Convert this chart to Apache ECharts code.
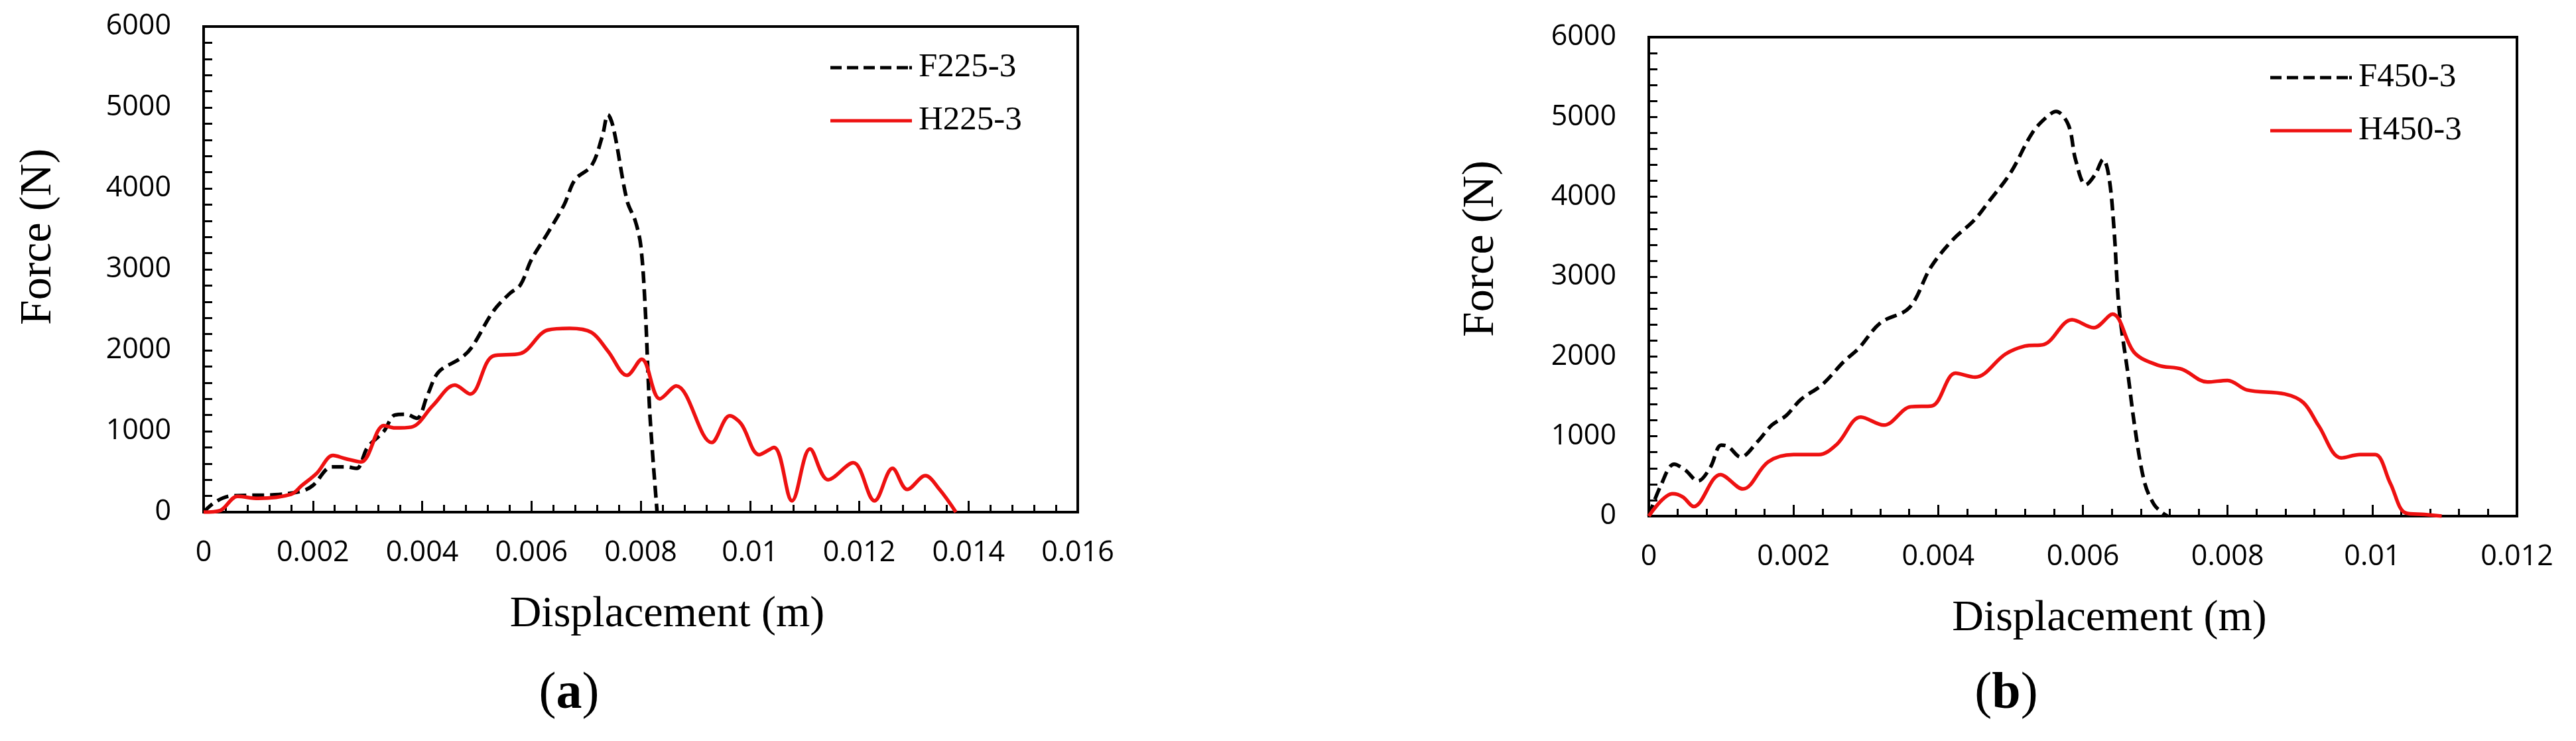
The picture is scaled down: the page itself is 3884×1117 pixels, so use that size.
<!DOCTYPE html>
<html>
<head>
<meta charset="utf-8">
<script src="https://cdn.jsdelivr.net/npm/echarts@6/dist/echarts.min.js"></script>
<style>
  body { margin: 0; background: #fff; }
  #chart { width: 3884px; height: 1117px; }
</style>
</head>
<body>
<div id="chart"></div>
<script>
// (a) 225 specimens
var f225X = [0, 0.0002, 0.0005, 0.0013, 0.0018, 0.002, 0.00235, 0.0026, 0.0028, 0.003, 0.0033, 0.0035, 0.0037, 0.0039, 0.0041, 0.0043, 0.0047, 0.0049, 0.0053, 0.0056, 0.0058, 0.006, 0.0063, 0.0066, 0.0068, 0.0071, 0.0073, 0.0074, 0.0075, 0.00775, 0.0079, 0.008, 0.00808, 0.00816, 0.00822, 0.00827, 0.0083];
var f225Y = [0, 120, 200, 215, 260, 330, 560, 560, 540, 800, 1000, 1200, 1210, 1160, 1450, 1730, 1900, 2030, 2480, 2700, 2810, 3120, 3450, 3800, 4110, 4280, 4650, 4910, 4750, 3850, 3600, 3300, 2560, 1310, 700, 262, 0];
var h225X = [0, 0.0003, 0.00062, 0.001, 0.0016, 0.0018, 0.00207, 0.00237, 0.0026, 0.00288, 0.0033, 0.0035, 0.0038, 0.0042, 0.0046, 0.00488, 0.0053, 0.0058, 0.0063, 0.0067, 0.0071, 0.0074, 0.00775, 0.00802, 0.00835, 0.00865, 0.0093, 0.00963, 0.00984, 0.01017, 0.01044, 0.01077, 0.0111, 0.01143, 0.01189, 0.01228, 0.01261, 0.01288, 0.01321, 0.01347, 0.01377];
var h225Y = [0, 20, 195, 170, 220, 330, 480, 700, 660, 620, 1070, 1040, 1050, 1320, 1570, 1460, 1930, 1960, 2250, 2270, 2220, 1990, 1690, 1890, 1400, 1560, 860, 1190, 1090, 710, 800, 140, 780, 400, 610, 140, 540, 280, 450, 280, 0];

// (b) 450 specimens
var f450X = [0, 0.00016, 0.00035, 0.0005, 0.00068, 0.00085, 0.001, 0.0011, 0.00127, 0.0015, 0.0017, 0.0019, 0.0021, 0.0024, 0.0027, 0.0029, 0.0032, 0.0036, 0.0039, 0.0042, 0.0045, 0.0047, 0.005, 0.0053, 0.0055, 0.00563, 0.0058, 0.0059, 0.00604, 0.00617, 0.00628, 0.00636, 0.00643, 0.0065, 0.00662, 0.00672, 0.00685, 0.00698, 0.0071, 0.00717];
var f450Y = [0, 370, 650, 580, 440, 610, 890, 870, 740, 930, 1140, 1260, 1460, 1650, 1940, 2100, 2420, 2610, 3120, 3460, 3710, 3940, 4300, 4800, 5000, 5070, 4900, 4460, 4150, 4280, 4470, 4250, 3600, 2600, 1800, 1100, 430, 150, 40, 0];
var h450X = [0, 0.00033, 0.00047, 0.00062, 0.00099, 0.0013, 0.00165, 0.002, 0.00235, 0.0026, 0.00293, 0.00325, 0.00362, 0.00391, 0.00424, 0.00451, 0.00493, 0.0052, 0.00546, 0.00585, 0.00615, 0.00641, 0.00671, 0.00704, 0.00737, 0.00772, 0.008, 0.00827, 0.00879, 0.00905, 0.00926, 0.00957, 0.00983, 0.01004, 0.01025, 0.01046, 0.01072, 0.01096];
var h450Y = [0, 280, 240, 120, 520, 340, 680, 770, 770, 900, 1240, 1140, 1370, 1380, 1790, 1740, 2030, 2130, 2150, 2460, 2360, 2530, 2050, 1890, 1840, 1680, 1700, 1580, 1530, 1420, 1130, 730, 770, 770, 410, 40, 20, 0];

var xMaxA = 0.016, xMaxB = 0.012;
var xTitle = 'Displacement (m)';
var yTitle = 'Force (N)';

function pairs(xs, ys) {
  return xs.map(function (x, i) { return [x, ys[i]]; });
}

var serif = 'Liberation Serif';
var sans = 'Open Sans';
var red = '#ee1111';

// legend swatches: dashed bar and solid bar
var dashIcon = 'path://M0,0h17v5h-17z M25,0h17v5h-17z M50,0h17v5h-17z M75,0h17v5h-17z M100,0h17v5h-17z M119,0h4v5h-4z';
var solidIcon = 'path://M0,0h123v5h-123z';

function xAxis(idx, max) {
  return {
    type: 'value', gridIndex: idx, min: 0, max: max, interval: 0.002,
    name: xTitle, nameLocation: 'middle', nameGap: 122,
    nameTextStyle: { fontFamily: serif, fontSize: 66, color: '#000', padding: [0, 0, 0, 80] },
    axisLine: { lineStyle: { color: '#000', width: 4 } },
    axisTick: { inside: true, length: 17, lineStyle: { color: '#000', width: 3 } },
    minorTick: { show: true, splitNumber: 5, length: 11, lineStyle: { color: '#000', width: 3 } },
    splitLine: { show: false },
    axisLabel: {
      margin: 40, fontFamily: sans, fontSize: 43, color: '#000',
      formatter: function (v) { return String(+v.toFixed(4)); }
    }
  };
}

function yAxis(idx) {
  return {
    type: 'value', gridIndex: idx, min: 0, max: 6000, interval: 1000,
    axisLine: { lineStyle: { color: '#000', width: 4 } },
    axisTick: { inside: true, length: 13, lineStyle: { color: '#000', width: 3 } },
    minorTick: { show: true, splitNumber: 5, length: 13, lineStyle: { color: '#000', width: 3 } },
    splitLine: { show: false },
    axisLabel: {
      margin: 49, fontFamily: sans, fontSize: 43, color: '#000',
      formatter: function (v) { return String(v); }
    }
  };
}

function line(name, idx, data, dashed) {
  var c = dashed ? '#000' : red;
  return {
    name: name, type: 'line', xAxisIndex: idx, yAxisIndex: idx,
    data: data, symbol: 'none', showSymbol: false, smooth: 0.35,
    color: c,
    itemStyle: { color: c },
    lineStyle: { width: 5.5, type: dashed ? [18, 9] : 'solid', color: c }
  };
}

function legend(names, left, top) {
  return {
    data: [
      { name: names[0], icon: dashIcon },
      { name: names[1], icon: solidIcon }
    ],
    orient: 'vertical', left: left, top: top,
    itemWidth: 123, itemHeight: 5, itemGap: 20, selectedMode: false,
    textStyle: { fontFamily: serif, fontSize: 51, lineHeight: 60, color: '#000', padding: [0, 0, 0, 5] }
  };
}

// y-axis title sits a little above the plot's middle in the original
function yTitleText(x, y) {
  return {
    type: 'text', x: x, y: y, rotation: Math.PI / 2,
    style: {
      text: yTitle, align: 'center', verticalAlign: 'middle',
      fontFamily: serif, fontSize: 68, fill: '#000'
    }
  };
}

function panelLabel(letter, x) {
  return {
    type: 'text', x: x, y: 1047,
    style: {
      text: '{p|(}{b|' + letter + '}{p|)}', align: 'center', verticalAlign: 'middle',
      rich: {
        p: { fontFamily: serif, fontSize: 78, fill: '#000' },
        b: { fontFamily: serif, fontSize: 78, fontWeight: 'bold', fill: '#000' }
      }
    }
  };
}

var chart = echarts.init(document.getElementById('chart'));
chart.setOption({
  animation: false,
  backgroundColor: '#fff',
  grid: [
    { left: 307, top: 40, width: 1318, height: 732, show: true, borderColor: '#000', borderWidth: 4 },
    { left: 2486, top: 56, width: 1309, height: 722, show: true, borderColor: '#000', borderWidth: 4 }
  ],
  xAxis: [xAxis(0, xMaxA), xAxis(1, xMaxB)],
  yAxis: [yAxis(0), yAxis(1)],
  legend: [legend(['F225-3', 'H225-3'], 1247, 67), legend(['F450-3', 'H450-3'], 3418, 82)],
  series: [
    line('F225-3', 0, pairs(f225X, f225Y), true),
    line('H225-3', 0, pairs(h225X, h225Y), false),
    line('F450-3', 1, pairs(f450X, f450Y), true),
    line('H450-3', 1, pairs(h450X, h450Y), false)
  ],
  graphic: [
    yTitleText(58, 357), yTitleText(2233, 375),
    panelLabel('a', 858), panelLabel('b', 3025)
  ]
});
</script>
</body>
</html>
